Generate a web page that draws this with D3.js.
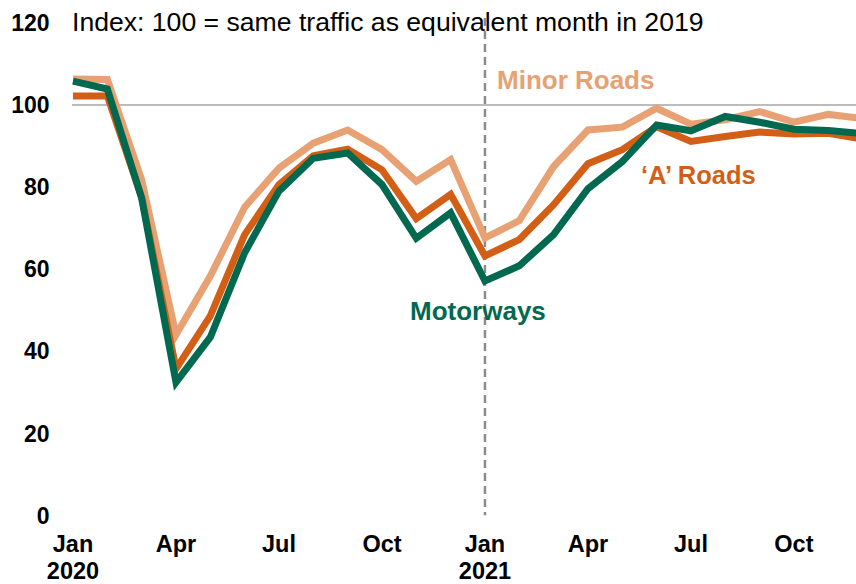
<!DOCTYPE html>
<html>
<head>
<meta charset="utf-8">
<script src="https://cdn.jsdelivr.net/npm/d3@7/dist/d3.min.js"></script>
<style>
  html, body { margin: 0; padding: 0; background: #fff; }
  svg { display: block; font-family: "Liberation Sans", Arial, sans-serif; }
</style>
</head>
<body>
<svg id="chart" width="856" height="584"></svg>
<script>
/* months Jan 2020 .. Dec 2021 */
const months = ['Jan','Feb','Mar','Apr','May','Jun','Jul','Aug','Sep','Oct','Nov','Dec',
                'Jan','Feb','Mar','Apr','May','Jun','Jul','Aug','Sep','Oct','Nov','Dec']

const minor_roads = [106.3, 106.2, 81.8, 44, 58.3, 75.1, 84.6, 90.7, 93.9, 89.1, 81.4, 86.7,
                     67.6, 71.8, 85, 93.9, 94.6, 99.2, 95.3, 96.4, 98.4, 95.8, 97.7, 96.7]
const a_roads     = [102.2, 102.2, 77.5, 35.7, 48.6, 68.4, 80.6, 87.6, 89.2, 84.2, 72.3, 78.2,
                     63.2, 67.2, 75.7, 85.7, 89.1, 94.7, 91.1, 92.3, 93.4, 92.9, 93.1, 91.7]
const motorways   = [105.8, 103.9, 77.3, 32.4, 43.4, 64, 79, 87, 88.3, 80.6, 67.5, 73.7,
                     57.1, 60.8, 68.4, 79.6, 86.2, 95.1, 93.7, 97.2, 95.8, 94.1, 93.8, 93]

const y_ticks = [0, 20, 40, 60, 80, 100, 120]
const x_ticks = [[0,'Jan','2020'], [3,'Apr',''], [6,'Jul',''], [9,'Oct',''],
                 [12,'Jan','2021'], [15,'Apr',''], [18,'Jul',''], [21,'Oct','']]

const title = 'Index: 100 = same traffic as equivalent month in 2019'

const svg = d3.select('#chart')

/* scales: month index -> x, index value -> y */
const x = d3.scaleLinear().domain([0, 23]).range([73, 73 + 23 * 34.33])
const y = d3.scaleLinear().domain([0, 120]).range([515.3, 22.9])

const color_minor = '#e8a173', color_a = '#d35f17', color_mw = '#00694f'

/* y labels */
svg.append('g')
    .selectAll('text')
    .data(y_ticks)
    .join('text')
    .attr('x', 49.5)
    .attr('y', d => y(d))
    .attr('dy', '0.36em')
    .attr('text-anchor', 'end')
    .style('font-size', '23px')
    .style('font-weight', 'bold')
    .text(d => d)

/* title */
svg.append('text')
    .attr('x', 72)
    .attr('y', 31)
    .style('font-size', '26.6px')
    .text(title)

/* 100 reference line */
svg.append('line')
    .attr('x1', 72).attr('x2', 856)
    .attr('y1', y(100)).attr('y2', y(100))
    .attr('stroke', '#a6a6a6')
    .attr('stroke-width', 1.5)

/* Jan 2021 dashed divider */
svg.append('line')
    .attr('x1', x(12)).attr('x2', x(12))
    .attr('y1', 18).attr('y2', y(0))
    .attr('stroke', '#8c8c8c')
    .attr('stroke-width', 2.5)
    .attr('stroke-dasharray', '8,5')

/* x labels */
const xg = svg.append('g')
xg.selectAll('.month')
    .data(x_ticks)
    .join('text')
    .classed('month', true)
    .attr('x', d => x(d[0]))
    .attr('y', 552)
    .attr('text-anchor', 'middle')
    .style('font-size', '23.5px')
    .style('font-weight', 'bold')
    .text(d => d[1])
xg.selectAll('.year')
    .data(x_ticks.filter(d => d[2]))
    .join('text')
    .classed('year', true)
    .attr('x', d => x(d[0]))
    .attr('y', 578.5)
    .attr('text-anchor', 'middle')
    .style('font-size', '23.5px')
    .style('font-weight', 'bold')
    .text(d => d[2])

/* lines */
const line = d3.line().x((d, i) => x(i)).y(d => y(d))
const series = [[minor_roads, color_minor], [a_roads, color_a], [motorways, color_mw]]

svg.selectAll('.series')
    .data(series)
    .join('path')
    .classed('series', true)
    .attr('d', d => line(d[0]))
    .attr('fill', 'none')
    .attr('stroke', d => d[1])
    .attr('stroke-width', 7)
    .attr('stroke-linejoin', 'miter')

/* series labels */
const labels = [['Minor Roads', 497, 89, color_minor, 26],
                ['\u2018A\u2019 Roads', 641, 184, color_a, 25.5],
                ['Motorways', 410, 320, color_mw, 26]]
svg.selectAll('.lbl')
    .data(labels)
    .join('text')
    .classed('lbl', true)
    .attr('x', d => d[1])
    .attr('y', d => d[2])
    .attr('fill', d => d[3])
    .style('font-size', d => d[4] + 'px')
    .style('font-weight', 'bold')
    .text(d => d[0])
</script>
</body>
</html>
